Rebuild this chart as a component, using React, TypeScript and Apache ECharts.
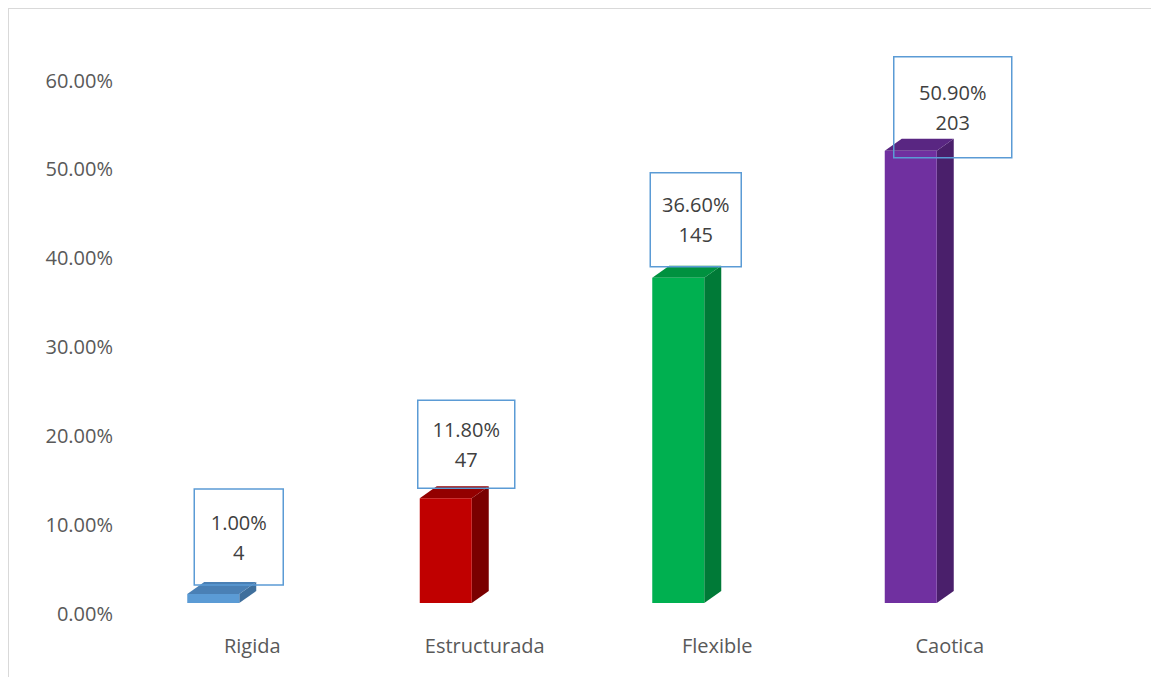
import React, { useEffect, useRef } from "react";
import * as echarts from "echarts";

const categories = ["Rigida", "Estructurada", "Flexible", "Caotica"];
const percentValues = [1.0, 11.8, 36.6, 50.9];
const counts = [4, 47, 145, 203];
const yTicks = [0, 10, 20, 30, 40, 50, 60];

const frontColors = ["#5B9BD5", "#C00000", "#00B050", "#7030A0"];
const sideColors = ["#3F6F9C", "#7A0000", "#007A37", "#4A1F6B"];
const topColors = ["#4A80B5", "#930000", "#00913F", "#592682"];

// label box layout (offset from category centre, width, height, offset from bar top)
const labelBoxes = [
  { dx: -13.5, w: 89, h: 96, dy: 3 },
  { dx: -18.5, w: 97, h: 88, dy: 2 },
  { dx: -21.5, w: 91, h: 94, dy: 1 },
  { dx: 3, w: 118, h: 101, dy: 19 },
];

export default function App() {
  const ref = useRef<HTMLDivElement>(null);
  useEffect(() => {
    if (!ref.current) return;
    const chart = echarts.init(ref.current, null, { renderer: "svg" });
    const font = "'Open Sans', sans-serif";
    const DEPTH_X = 17;
    const DEPTH_Y = 12;
    const FLOOR = 10;
    const BAR_W = 52;
    const BAR_OFF = -65;
    chart.setOption({
      animation: false,
      grid: { left: 127, right: 93, top: 71, bottom: 64 },
      xAxis: {
        type: "category",
        data: categories,
        axisLine: { show: false },
        axisTick: { show: false },
        axisLabel: { color: "#595959", fontSize: 20, fontFamily: font, margin: 22 },
      },
      yAxis: {
        type: "value",
        min: yTicks[0],
        max: yTicks[yTicks.length - 1],
        interval: 10,
        axisLine: { show: false },
        axisTick: { show: false },
        splitLine: { show: false },
        axisLabel: {
          color: "#595959",
          fontSize: 20,
          fontFamily: font,
          margin: 23,
          formatter: (v: number) => v.toFixed(2) + "%",
        },
      },
      series: [
        {
          type: "custom",
          clip: false,
          data: percentValues.map((v, i) => [i, v]),
          renderItem: (params: any, api: any) => {
            const i = params.dataIndex;
            const val = api.value(1);
            const top = api.coord([i, val]);
            const base = api.coord([i, 0]);
            const cx = base[0];
            const x0 = cx + BAR_OFF;
            const x1 = x0 + BAR_W;
            const yb = base[1] - FLOOR;
            const yt = top[1] - FLOOR;
            const box = labelBoxes[i];
            const boxBottom = yt - DEPTH_Y + box.dy;
            const bx = cx + box.dx - box.w / 2;
            const by = boxBottom - box.h;
            const bcy = by + box.h / 2;
            return {
              type: "group",
              children: [
                {
                  type: "polygon",
                  shape: {
                    points: [
                      [x1, yb],
                      [x1 + DEPTH_X, yb - DEPTH_Y],
                      [x1 + DEPTH_X, yt - DEPTH_Y],
                      [x1, yt],
                    ],
                  },
                  style: { fill: sideColors[i] },
                },
                {
                  type: "polygon",
                  shape: {
                    points: [
                      [x0, yt],
                      [x0 + DEPTH_X, yt - DEPTH_Y],
                      [x1 + DEPTH_X, yt - DEPTH_Y],
                      [x1, yt],
                    ],
                  },
                  style: { fill: topColors[i] },
                },
                {
                  type: "rect",
                  shape: { x: x0, y: yt, width: BAR_W, height: yb - yt },
                  style: { fill: frontColors[i] },
                },
                {
                  type: "rect",
                  shape: { x: bx, y: by, width: box.w, height: box.h },
                  style: { fill: "none", stroke: "#5B9BD5", lineWidth: 1.5 },
                },
                {
                  type: "text",
                  style: {
                    x: bx + box.w / 2,
                    y: bcy - 15,
                    text: percentValues[i].toFixed(2) + "%",
                    fill: "#404040",
                    font: `20px ${font}`,
                    align: "center",
                    verticalAlign: "middle",
                  },
                },
                {
                  type: "text",
                  style: {
                    x: bx + box.w / 2,
                    y: bcy + 15,
                    text: String(counts[i]),
                    fill: "#404040",
                    font: `20px ${font}`,
                    align: "center",
                    verticalAlign: "middle",
                  },
                },
              ],
            };
          },
        },
      ],
    });
    return () => chart.dispose();
  }, []);
  return (
    <div
      style={{
        width: 1151,
        height: 669,
        borderTop: "1px solid #d9d9d9",
        borderLeft: "1px solid #d9d9d9",
        boxSizing: "border-box",
        overflow: "hidden",
      }}
    >
      <div ref={ref} style={{ width: 1150, height: 668 }} />
    </div>
  );
}
